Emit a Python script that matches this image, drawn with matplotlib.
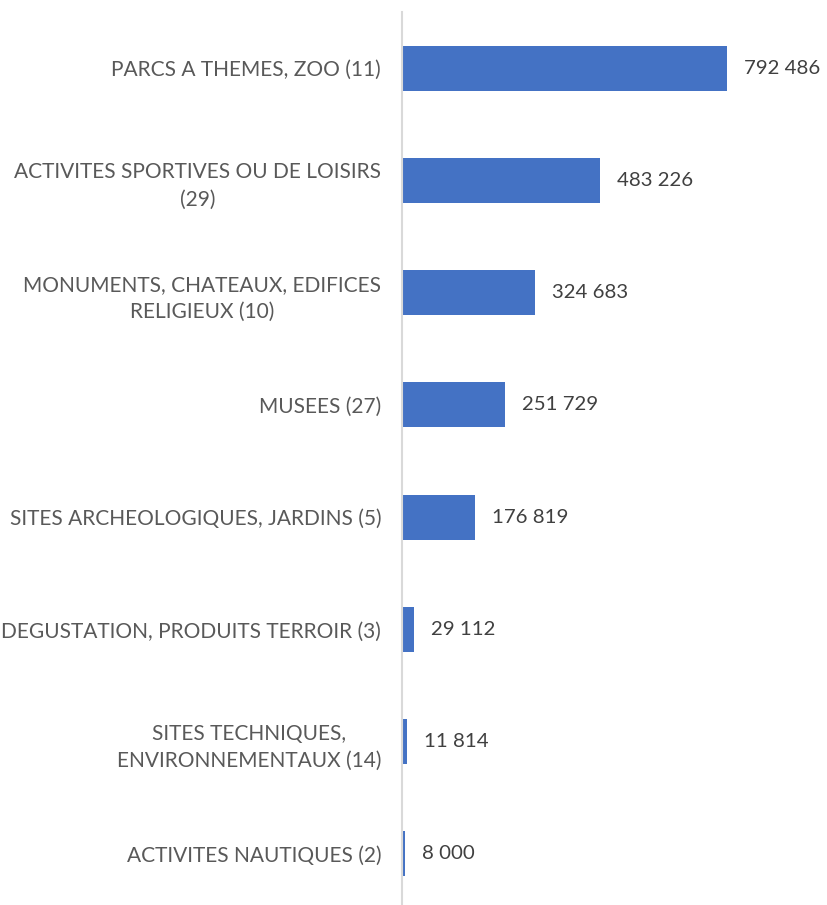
import matplotlib
matplotlib.use("Agg")
import matplotlib.pyplot as plt
from matplotlib.ticker import NullLocator

categories = [
    "PARCS A THEMES, ZOO (11)",
    "ACTIVITES SPORTIVES OU DE LOISIRS\n(29)",
    "MONUMENTS, CHATEAUX, EDIFICES\nRELIGIEUX (10)",
    "MUSEES (27)",
    "SITES ARCHEOLOGIQUES, JARDINS (5)",
    "DEGUSTATION, PRODUITS TERROIR (3)",
    "SITES TECHNIQUES,\nENVIRONNEMENTAUX (14)",
    "ACTIVITES NAUTIQUES (2)",
]
values = [792486, 483226, 324683, 251729, 176819, 29112, 11814, 8000]
value_labels = ["792 486", "483 226", "324 683", "251 729", "176 819", "29 112", "11 814", "8 000"]

plt.rcParams['font.family'] = ['Lato', 'DejaVu Sans']
W, H = 828, 905
fig = plt.figure(figsize=(W/100, H/100), dpi=100)
ax_left = 402 / W
ax_top = 12
ax_bottom = 910
ax = fig.add_axes([ax_left, 1 - ax_bottom / H, 1 - ax_left, (ax_bottom - ax_top) / H])

y = list(range(len(categories)))
ax.barh(y, values, height=0.4, color="#4472C4")
ax.set_ylim(len(categories) - 0.5, -0.5)
xmax = 792486 * (W - 402) / (727 - 402)
ax.set_xlim(0, xmax)

for yi, v, lab in zip(y, values, value_labels):
    ax.annotate(lab, (v, yi), xytext=(17, 0), textcoords="offset pixels",
                va="center", ha="left", fontsize=14.7, color="#404040")

ax.set_yticks(y)
ax.set_yticklabels(categories, fontsize=15, color="#595959", linespacing=1.45,
                   multialignment="center")
ax.tick_params(axis="y", length=0, pad=15)
ax.xaxis.set_major_locator(NullLocator())
for s in ["top", "right", "bottom"]:
    ax.spines[s].set_visible(False)
ax.spines["left"].set_color("#d9d9d9")
ax.spines["left"].set_linewidth(1.5)

fig.savefig("out.png", dpi=100)
